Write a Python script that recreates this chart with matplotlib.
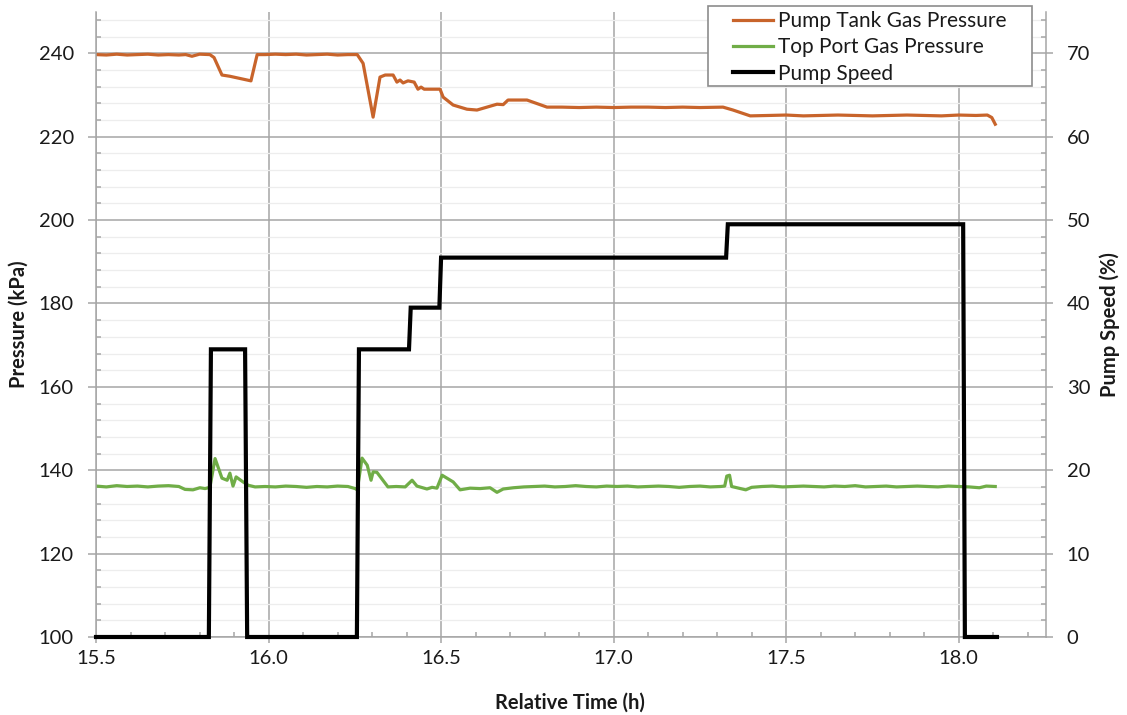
import numpy as np
import matplotlib
matplotlib.use('Agg')
import matplotlib.pyplot as plt
from matplotlib.ticker import MultipleLocator, FormatStrFormatter
from matplotlib.patches import Rectangle

plt.rcParams['font.family'] = ['Lato', 'DejaVu Sans']
plt.rcParams['font.size'] = 14.5

# Pump Tank Gas Pressure (kPa)
tank_t = [15.50, 15.53, 15.56, 15.59, 15.62, 15.65, 15.68, 15.71, 15.74,
          15.76, 15.778, 15.80, 15.83, 15.842, 15.865, 15.888, 15.949, 15.967,
          15.99, 16.02, 16.05, 16.08, 16.11, 16.14, 16.17, 16.20, 16.23,
          16.257, 16.274, 16.303, 16.323, 16.338, 16.361, 16.372, 16.381, 16.390,
          16.404, 16.422, 16.433, 16.442, 16.451, 16.497, 16.506, 16.535, 16.575,
          16.604, 16.633, 16.662, 16.680, 16.694, 16.749, 16.807,
          16.85, 16.90, 16.95, 17.00, 17.05, 17.10, 17.15, 17.20, 17.25,
          17.317, 17.346, 17.396,
          17.45, 17.50, 17.55, 17.60, 17.65, 17.70, 17.75, 17.80, 17.85, 17.90,
          17.95, 18.00, 18.05, 18.083, 18.096, 18.106]
tank_p = [239.7, 239.6, 239.8, 239.6, 239.7, 239.8, 239.6, 239.7, 239.6,
          239.7, 239.3, 239.8, 239.7, 239.0, 234.8, 234.5, 233.4, 239.7,
          239.7, 239.8, 239.7, 239.8, 239.6, 239.7, 239.8, 239.6, 239.7,
          239.7, 237.6, 224.7, 234.3, 234.8, 234.8, 233.1, 233.6, 232.9,
          233.4, 233.1, 231.4, 231.9, 231.4, 231.4, 229.5, 227.6, 226.6,
          226.4, 227.1, 227.8, 227.7, 228.8, 228.8, 227.1,
          227.1, 227.0, 227.1, 227.0, 227.1, 227.1, 227.0, 227.1, 227.0,
          227.1, 226.4, 225.0,
          225.1, 225.2, 225.0, 225.1, 225.2, 225.1, 225.0, 225.1, 225.2, 225.1,
          225.0, 225.2, 225.1, 225.2, 224.6, 223.0]

# Top Port Gas Pressure (kPa)
top_t = [15.50, 15.53, 15.56, 15.59, 15.62, 15.65, 15.68, 15.71, 15.74,
         15.758, 15.781, 15.801, 15.816, 15.830,
         15.845, 15.865, 15.880, 15.888, 15.897, 15.906, 15.926, 15.941, 15.961,
         15.99, 16.02, 16.05, 16.08, 16.11, 16.14, 16.17, 16.20, 16.23,
         16.251, 16.257,
         16.271, 16.286, 16.297, 16.303, 16.314, 16.346, 16.37, 16.396,
         16.416, 16.430, 16.459, 16.474, 16.488,
         16.503, 16.535, 16.555, 16.584, 16.613, 16.642, 16.662, 16.68, 16.71, 16.74,
         16.77, 16.80, 16.83, 16.86, 16.89, 16.92, 16.95, 16.98, 17.01, 17.04,
         17.07, 17.10, 17.13, 17.16, 17.19, 17.22, 17.25, 17.28, 17.31, 17.322,
         17.328, 17.336, 17.342, 17.383, 17.40,
         17.43, 17.46, 17.49, 17.52, 17.55, 17.58, 17.61, 17.64, 17.67, 17.70,
         17.73, 17.76, 17.79, 17.82, 17.85, 17.88, 17.91, 17.94, 17.97, 18.00,
         18.03, 18.06, 18.08, 18.106]
top_p = [136.2, 136.0, 136.3, 136.1, 136.2, 136.0, 136.2, 136.3, 136.1,
         135.4, 135.3, 135.8, 135.6, 135.9,
         142.8, 138.1, 137.6, 139.3, 136.2, 138.4, 137.2, 136.4, 136.0,
         136.1, 136.0, 136.2, 136.1, 135.9, 136.1, 136.0, 136.2, 136.1,
         135.6, 135.3,
         142.9, 141.2, 137.6, 139.6, 139.5, 136.0, 136.1, 136.0,
         137.6, 136.2, 135.5, 135.9, 135.7,
         138.8, 137.2, 135.3, 135.7, 135.6, 135.8, 134.7, 135.5, 135.8, 136.0,
         136.1, 136.2, 136.0, 136.1, 136.3, 136.1, 136.0, 136.2, 136.1, 136.2,
         136.0, 136.1, 136.2, 136.1, 135.9, 136.1, 136.2, 136.0, 136.1, 136.2,
         138.6, 138.8, 136.1, 135.3, 135.9,
         136.1, 136.2, 136.0, 136.1, 136.2, 136.1, 136.0, 136.2, 136.1, 136.3,
         136.0, 136.1, 136.2, 136.0, 136.1, 136.2, 136.1, 136.0, 136.2, 136.1,
         136.0, 135.8, 136.2, 136.1]

# Pump Speed (%)
speed_t = [15.50, 15.827, 15.833, 15.932, 15.938, 16.256, 16.262, 16.407,
           16.412, 16.495, 16.500, 17.326, 17.331, 18.013, 18.018, 18.111]
speed_v = [0, 0, 34.5, 34.5, 0, 0, 34.5, 34.5,
           39.5, 39.5, 45.5, 45.5, 49.5, 49.5, 0, 0]

orange = '#C8642B'
green = '#70AD47'
spine_c = '#A6A6A6'
txt_c = '#1A1A1A'

fig = plt.figure(figsize=(11.27, 7.15), dpi=100)
ax = fig.add_axes([0.0852, 0.1091, 0.8429, 0.8746])
ax2 = ax.twinx()

l1, = ax.plot(tank_t, tank_p, color=orange, lw=2.3, label='Pump Tank Gas Pressure')
l2, = ax.plot(top_t, top_p, color=green, lw=2.3, label='Top Port Gas Pressure')
l3, = ax2.plot(speed_t, speed_v, color='black', lw=3, label='Pump Speed',
               clip_on=False, solid_joinstyle='miter')

ax.set_xlim(15.5, 18.253)
ax.set_ylim(100, 250)
ax2.set_ylim(0, 75)

ax.set_xticks(np.arange(15.5, 18.01, 0.5))
ax.xaxis.set_major_formatter(FormatStrFormatter('%.1f'))
ax.xaxis.set_minor_locator(MultipleLocator(0.1))
ax.yaxis.set_major_locator(MultipleLocator(20))
ax.yaxis.set_minor_locator(MultipleLocator(4))
ax2.set_yticks(np.arange(0, 71, 10))
ax2.yaxis.set_minor_locator(MultipleLocator(2))

ax.grid(which='major', axis='both', color=spine_c, lw=1.1)
ax.grid(which='minor', axis='y', color='#EDEDED', lw=0.9)
ax.set_axisbelow(True)

for a in (ax, ax2):
    for s in a.spines.values():
        s.set_color(spine_c)
        s.set_linewidth(1.1)
    a.spines['top'].set_visible(False)
ax.spines['right'].set_visible(False)
ax2.spines['left'].set_visible(False)
ax2.spines['bottom'].set_visible(False)

ax.tick_params(axis='x', which='major', direction='out', length=4.5, width=1.1,
               color=spine_c, labelcolor=txt_c, pad=5)
ax.tick_params(axis='y', which='major', direction='out', length=6, width=1.1,
               color=spine_c, labelcolor=txt_c, pad=10)
ax.tick_params(which='minor', direction='in', length=3.6, width=1.1, color=spine_c)
ax2.tick_params(axis='y', which='major', direction='out', length=5, width=1.1,
                color=spine_c, labelcolor=txt_c, pad=10)
ax2.tick_params(axis='y', which='minor', direction='in', length=3.6, width=1.1,
                color=spine_c)

ax.set_xlabel('Relative Time (h)', fontweight='bold', color=txt_c)
ax.set_ylabel('Pressure (kPa)', fontweight='bold', color=txt_c)
ax2.set_ylabel('Pump Speed (%)', fontweight='bold', color=txt_c)
ax.xaxis.set_label_coords(0.499, -0.0896)
ax.yaxis.set_label_coords(-0.071, 0.5)
ax2.yaxis.set_label_coords(1.056, 0.5)

# legend box
fig.patches.append(Rectangle((708 / 1127, 1 - 86 / 715), 324 / 1127, 80 / 715,
                             transform=fig.transFigure, fill=True, facecolor='white',
                             edgecolor='#8C8C8C', lw=1.2, zorder=5))
leg = fig.legend(handles=[l1, l2, l3], loc='upper left',
                 bbox_to_anchor=(733 / 1127, 1 - 11 / 715), frameon=False,
                 fontsize=15, borderpad=0, borderaxespad=0, handlelength=1.9,
                 handletextpad=0.25, labelspacing=0.3)
leg.set_zorder(6)
for t in leg.get_texts():
    t.set_color(txt_c)

fig.savefig('out.png', dpi=100)
